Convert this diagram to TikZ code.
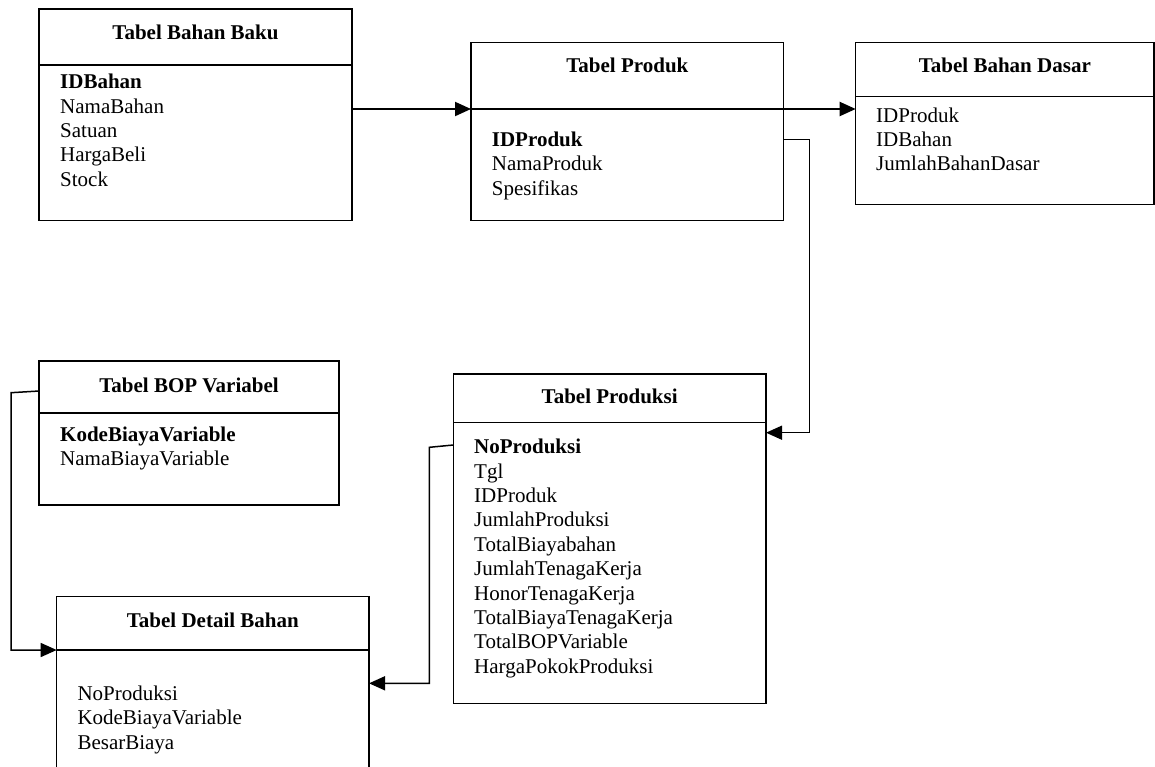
\documentclass[tikz,border=0pt]{standalone}
\usepackage{fontspec}
\setmainfont{Liberation Serif}
\usetikzlibrary{arrows.meta}

\tikzset{
  tbl/.style={draw, line width=1.2pt, rectangle, inner sep=0pt, outer sep=0pt, anchor=north west},
  divider/.style={line width=1.2pt},
  ttl/.style={font=\fontsize{21}{24.4}\selectfont\bfseries, anchor=base, inner sep=0pt},
  flds/.style={font=\fontsize{21}{24.4}\selectfont, anchor=base west, inner sep=0pt},
  link/.style={line width=1.5pt, -{Triangle[length=16pt,width=14pt]}},
  mainlink/.style={line width=2pt, -{Triangle[length=16pt,width=14pt]}}
}
\newcommand{\fieldlist}[1]{\parbox[t]{300pt}{\raggedright #1}}

\begin{document}
\begin{tikzpicture}[x=1pt,y=-1pt]
\clip (0,0) rectangle (1155,766);
\fill[white] (0,0) rectangle (1155,766);

% table boxes
\node[tbl, minimum width=313pt, minimum height=211.7pt] (baku) at (39,9) {};
\node[tbl, minimum width=312.7pt, minimum height=178.2pt] (prod) at (471,42.5) {};
\node[tbl, minimum width=298.3pt, minimum height=161.6pt] (dasar) at (855.7,42.7) {};
\node[tbl, minimum width=300pt, minimum height=144pt] (bop) at (39,361) {};
\node[tbl, minimum width=312.7pt, minimum height=329.3pt] (produksi) at (453.3,374) {};
\node[tbl, minimum width=312.3pt, minimum height=200pt] (detail) at (56.7,596.7) {};

% header dividers
\draw[divider] (baku.west |- 0,65) -- (baku.east |- 0,65);
\draw[divider] (prod.west |- 0,109) -- (prod.east |- 0,109);
\draw[divider] (dasar.west |- 0,96.7) -- (dasar.east |- 0,96.7);
\draw[divider] (bop.west |- 0,413) -- (bop.east |- 0,413);
\draw[divider] (produksi.west |- 0,422.7) -- (produksi.east |- 0,422.7);
\draw[divider] (detail.west |- 0,650) -- (detail.east |- 0,650);

% titles
\node[ttl] (tbaku) at (baku.center |- 0,39.7) {Tabel Bahan Baku};
\node[ttl] (tprod) at (prod.center |- 0,72.7) {Tabel Produk};
\node[ttl] (tdasar) at (dasar.center |- 0,72.7) {Tabel Bahan Dasar};
\node[ttl] (tbop) at (bop.center |- 0,392) {Tabel BOP Variabel};
\node[ttl] (tproduksi) at (produksi.center |- 0,403.7) {Tabel Produksi};
\node[ttl] (tdetail) at (detail.center |- 0,627) {Tabel Detail Bahan};

% field lists
\node[flds] (fbaku) at (60,88.7) {\fieldlist{\textbf{IDBahan}\\NamaBahan\\Satuan\\HargaBeli\\Stock}};
\node[flds] (fprod) at (491.7,146.3) {\fieldlist{\textbf{IDProduk}\\NamaProduk\\Spesifikas}};
\node[flds] (fdasar) at (876,122) {\fieldlist{IDProduk\\IDBahan\\JumlahBahanDasar}};
\node[flds] (fbop) at (60,441.3) {\fieldlist{\textbf{KodeBiayaVariable}\\NamaBiayaVariable}};
\node[flds] (fproduksi) at (474,453.7) {\fieldlist{\textbf{NoProduksi}\\Tgl\\IDProduk\\JumlahProduksi\\TotalBiayabahan\\JumlahTenagaKerja\\HonorTenagaKerja\\TotalBiayaTenagaKerja\\TotalBOPVariable\\HargaPokokProduksi}};
\node[flds] (fdetail) at (77.3,700.3) {\fieldlist{NoProduksi\\KodeBiayaVariable\\BesarBiaya}};

% relations
\draw[mainlink] (baku.east |- 0,109) -- (prod.west |- 0,109);
\draw[mainlink] (prod.east |- 0,109) -- (dasar.west |- 0,109);
\draw[link] (prod.east |- 0,139.3) -- (809.3,139.3) -- (809.3,432.7) -- (produksi.east |- 0,432.7);
\draw[link] (bop.west |- 0,391) -- (11,392.7) -- (11,650) -- (detail.west |- 0,650);
\draw[link] (produksi.west |- 0,445) -- (429.3,447.3) -- (429.3,683.3) -- (detail.east |- 0,683.3);
\end{tikzpicture}
\end{document}
